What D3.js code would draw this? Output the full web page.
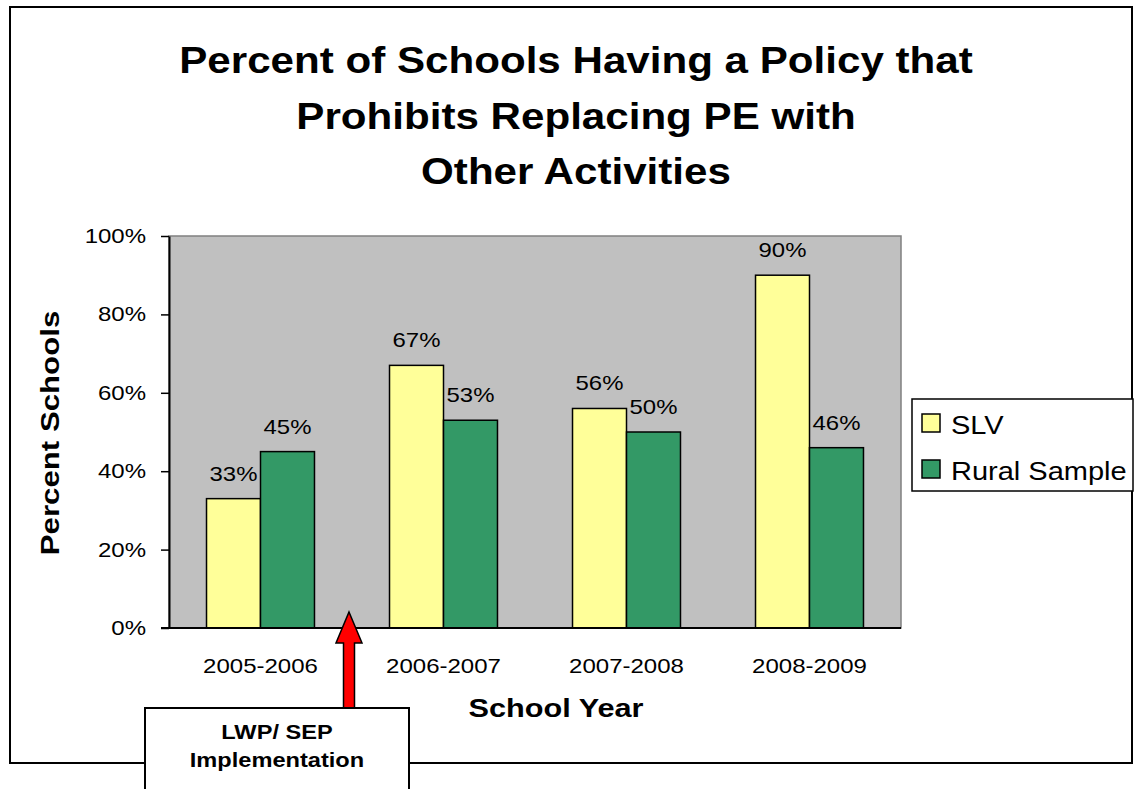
<!DOCTYPE html>
<html><head><meta charset="utf-8">
<script src="https://cdn.jsdelivr.net/npm/d3@7"></script>
<style>body{margin:0;background:#fff}svg{display:block;font-family:Arial,"Liberation Sans",sans-serif}</style>
</head><body>
<svg id="c" width="1135" height="789"></svg>
<script>
const categories = ["2005-2006","2006-2007","2007-2008","2008-2009"];
const seriesNames = ["SLV","Rural Sample"];
const slv = [33,67,56,90];
const rural = [45,53,50,46];
const yTicks = [0,20,40,60,80,100];
const colors = ["#FFFF99","#339966"];
const FONT = "Arial, 'Liberation Sans', sans-serif";

function stretch(sel,k){
  sel.each(function(){
    const w = this.getComputedTextLength();
    d3.select(this).attr("textLength",w*k).attr("lengthAdjust","spacingAndGlyphs");
  });
}

const svg = d3.select("#c");
svg.append("rect").attr("x",10).attr("y",7).attr("width",1122).attr("height",756)
  .attr("fill","#fff").attr("stroke","#000").attr("stroke-width",2);

const L=169, R=901, T=236, B=628;
const x = d3.scaleBand().domain(categories).range([L,R]).paddingInner(0.41).paddingOuter(0.205);
const xs = d3.scaleBand().domain(seriesNames).range([0,x.bandwidth()]);
const y = d3.scaleLinear().domain([0,100]).range([B,T]);

svg.append("rect").attr("x",L).attr("y",T).attr("width",R-L).attr("height",B-T)
  .attr("fill","#C0C0C0").attr("stroke","#808080").attr("stroke-width",1.5);

const data = categories.map((c,i)=>({c, vals:[slv[i], rural[i]]}));
const g = svg.append("g");
data.forEach(d=>{
  d.vals.forEach((v,j)=>{
    const bx = x(d.c)+xs(seriesNames[j]);
    g.append("rect").attr("x",bx).attr("y",y(v)).attr("width",xs.bandwidth()).attr("height",B-y(v))
      .attr("fill",colors[j]).attr("stroke","#000").attr("stroke-width",1.5);
    g.append("text").attr("class","val").attr("x",bx+xs.bandwidth()/2).attr("y",y(v)-18).attr("text-anchor","middle")
      .attr("font-size",21).text(v+"%");
  });
});
stretch(g.selectAll("text.val"),1.14);

// y axis
const ya = svg.append("g").attr("transform",`translate(${L},0)`)
  .call(d3.axisLeft(y).tickValues(yTicks).tickFormat(d=>d+"%").tickSize(8).tickSizeOuter(0));
ya.select(".domain").attr("stroke","#000").attr("stroke-width",2);
ya.selectAll(".tick line").attr("stroke","#000").attr("stroke-width",1.5);
ya.selectAll(".tick text").attr("font-size",20).attr("font-family",FONT).attr("fill","#000").attr("x",-23);
stretch(ya.selectAll(".tick text"),1.2);

// x axis
const xa = svg.append("g").attr("transform",`translate(0,${B})`)
  .call(d3.axisBottom(x).tickSize(0).tickSizeOuter(0));
xa.select(".domain").attr("stroke","#000").attr("stroke-width",2).attr("d",`M${L-8},0H${R}`);
xa.selectAll(".tick text").attr("font-size",20).attr("font-family",FONT).attr("fill","#000").attr("dy","0").attr("y",45);
stretch(xa.selectAll(".tick text"),1.2);

// title
const title = ["Percent of Schools Having a Policy that","Prohibits Replacing PE with","Other Activities"];
const tt = svg.selectAll("text.title").data(title).enter().append("text").attr("class","title")
  .attr("x",576).attr("y",(d,i)=>73+i*55.5).attr("text-anchor","middle")
  .attr("font-size",36).attr("font-weight","bold").text(d=>d);
stretch(tt,1.17);

// axis titles
const yt = svg.append("text").attr("transform","translate(59,433) rotate(-90)").attr("text-anchor","middle")
  .attr("font-size",26).attr("font-weight","bold").text("Percent Schools");
stretch(yt,1.2);
const xt = svg.append("text").attr("x",556).attr("y",717).attr("text-anchor","middle")
  .attr("font-size",26).attr("font-weight","bold").text("School Year");
stretch(xt,1.18);

// legend
const lg = svg.append("g");
lg.append("rect").attr("x",912).attr("y",399).attr("width",221).attr("height",92)
  .attr("fill","#fff").attr("stroke","#000").attr("stroke-width",1.5);
seriesNames.forEach((n,i)=>{
  const top = 414+i*46;
  lg.append("rect").attr("x",922).attr("y",top).attr("width",18).attr("height",18)
    .attr("fill",colors[i]).attr("stroke","#000").attr("stroke-width",1.5);
  lg.append("text").attr("class","lt").attr("x",951).attr("y",top+20).attr("font-size",25).text(n);
});
stretch(lg.selectAll("text.lt"),1.16);

// arrow + annotation box
svg.append("path").attr("d","M349,612 L362,643 L354.5,643 L354.5,709 L343.5,709 L343.5,643 L336,643 Z")
  .attr("fill","#FF0000").attr("stroke","#000").attr("stroke-width",1.5);
svg.append("rect").attr("x",145).attr("y",708).attr("width",264).attr("height",90)
  .attr("fill","#fff").attr("stroke","#000").attr("stroke-width",2);
const at = svg.selectAll("text.ann").data(["LWP/ SEP","Implementation"]).enter().append("text").attr("class","ann")
  .attr("x",277).attr("y",(d,i)=>739+i*27.5).attr("text-anchor","middle")
  .attr("font-size",20).attr("font-weight","bold").text(d=>d);
stretch(at,1.18);
</script>
</body></html>
